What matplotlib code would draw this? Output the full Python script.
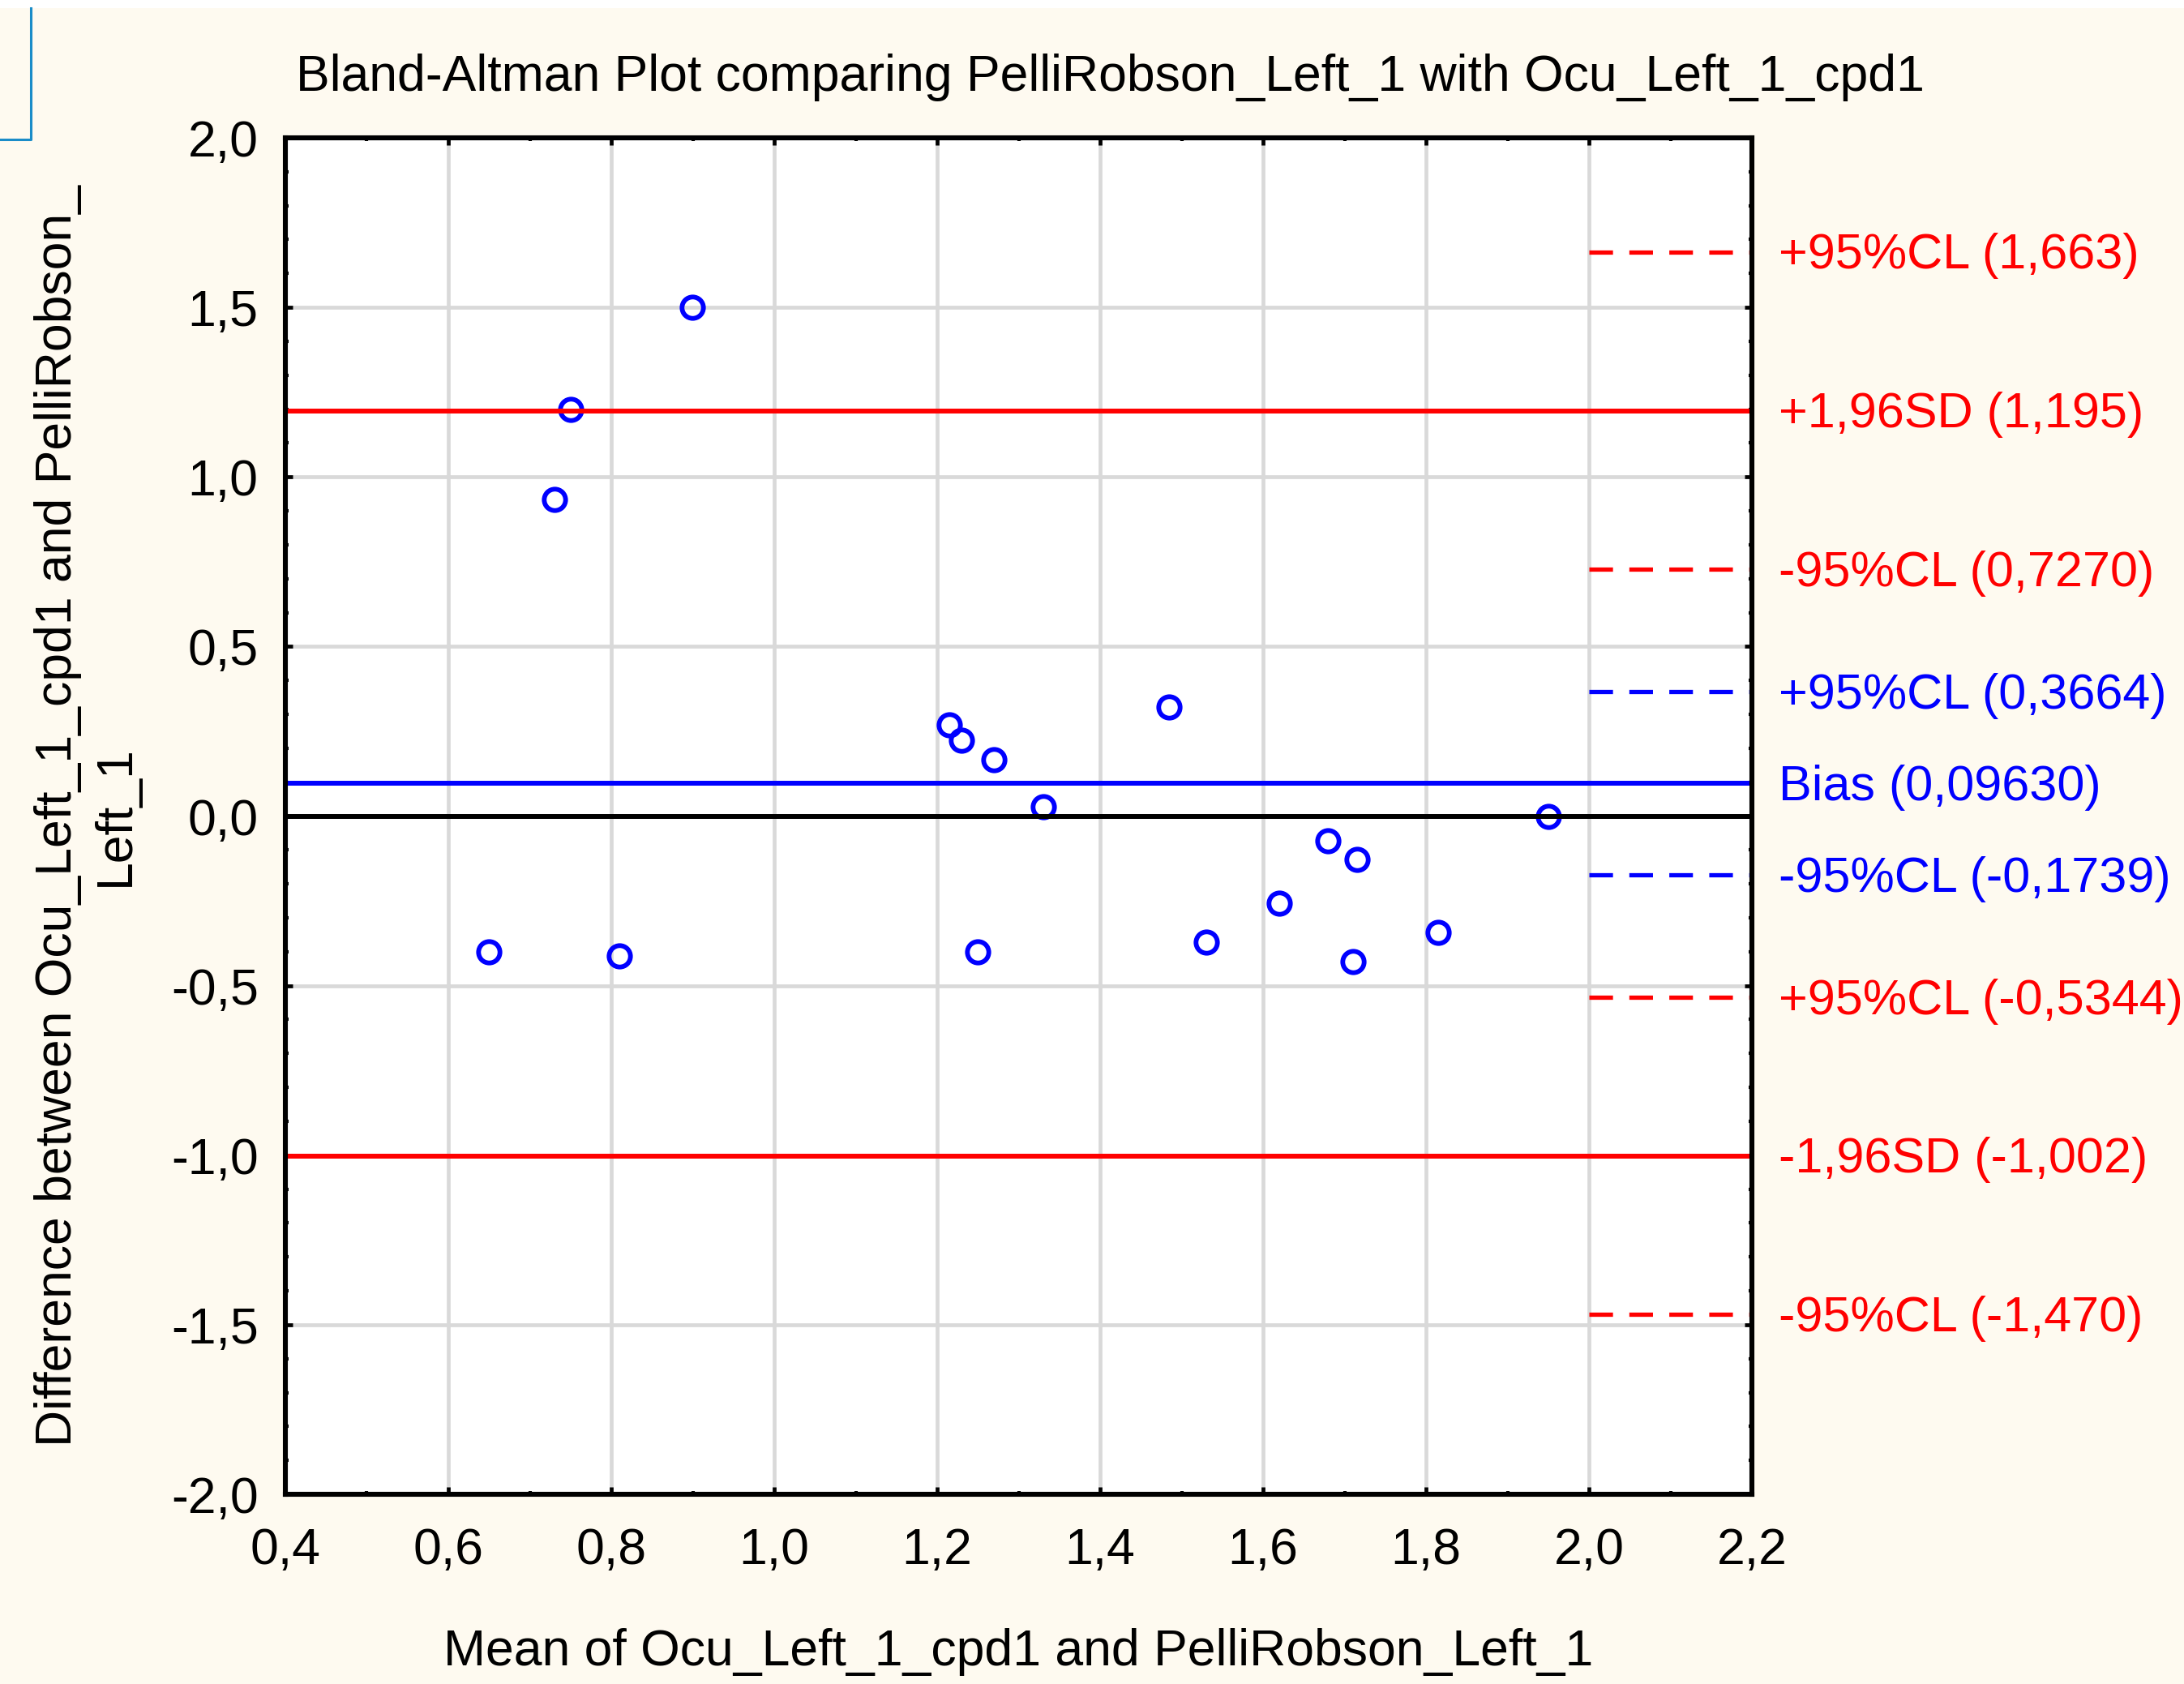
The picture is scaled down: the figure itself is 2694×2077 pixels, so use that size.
import matplotlib
matplotlib.use("Agg")
import matplotlib.pyplot as plt
from matplotlib.ticker import MultipleLocator, FuncFormatter
from matplotlib.patches import Rectangle
from matplotlib.lines import Line2D
import matplotlib.transforms as mtransforms

plt.rcParams['font.family'] = ['Liberation Sans', 'DejaVu Sans']
plt.rcParams['lines.scale_dashes'] = False

# data
mean_vals = [0.90, 0.75, 0.73, 0.65, 0.81, 1.215, 1.23, 1.27, 1.33, 1.25,
             1.485, 1.53, 1.62, 1.68, 1.715, 1.71, 1.815, 1.95]
diff_vals = [1.50, 1.20, 0.933, -0.40, -0.412, 0.268, 0.224, 0.166, 0.027, -0.40,
             0.322, -0.371, -0.256, -0.072, -0.129, -0.429, -0.343, -0.002]

bias = 0.09630
sd_upper = 1.195
sd_lower = -1.002
cl_values = [1.663, 0.7270, 0.3664, -0.1739, -0.5344, -1.470]
cl_colors = ['red', 'red', 'blue', 'blue', 'red', 'red']

right_labels = ["+95%CL (1,663)", "+1,96SD (1,195)", "-95%CL (0,7270)",
                "+95%CL (0,3664)", "Bias (0,09630)", "-95%CL (-0,1739)",
                "+95%CL (-0,5344)", "-1,96SD (-1,002)", "-95%CL (-1,470)"]
right_values = [1.663, 1.195, 0.7270, 0.3664, 0.09630, -0.1739, -0.5344, -1.002, -1.470]
right_colors = ['red', 'red', 'red', 'blue', 'blue', 'blue', 'red', 'red', 'red']

title = "Bland-Altman Plot comparing PelliRobson_Left_1 with Ocu_Left_1_cpd1"
xlabel = "Mean of Ocu_Left_1_cpd1 and PelliRobson_Left_1"
ylabel = "Difference between Ocu_Left_1_cpd1 and PelliRobson_\nLeft_1"

W, H = 2694, 2077
fs = 45
bg = '#FEFAF0'

fig = plt.figure(figsize=(W/100, H/100), dpi=100, facecolor=bg)
ax = fig.add_axes([352/W, 1-1843/H, (2161-352)/W, (1843-170)/H])
ax.set_facecolor('white')

# white strip at top and the blue box corner
fig.patches.append(Rectangle((0, 1-10/H), 1, 10/H, transform=fig.transFigure,
                             facecolor='white', edgecolor='none', zorder=0))
fig.lines.append(Line2D([38/W, 38/W, 0], [1-10/H, 1-172/H, 1-172/H],
                        transform=fig.transFigure, color='#1A8CC8', lw=2.2))

ax.set_xlim(0.4, 2.2)
ax.set_ylim(-2.0, 2.0)
ax.xaxis.set_major_locator(MultipleLocator(0.2))
ax.xaxis.set_minor_locator(MultipleLocator(0.1))
ax.yaxis.set_major_locator(MultipleLocator(0.5))
ax.yaxis.set_minor_locator(MultipleLocator(0.1))
fmt = FuncFormatter(lambda v, p: ("%.1f" % v).replace('.', ','))
ax.xaxis.set_major_formatter(fmt)
ax.yaxis.set_major_formatter(fmt)

ax.grid(True, which='major', color='#D9D9D9', lw=3.4, zorder=0)
ax.set_axisbelow(True)
ax.tick_params(which='both', direction='in', top=True, right=True,
               color='black', labelsize=fs)
ax.tick_params(which='major', length=6.5, width=3.4)
ax.tick_params(which='minor', length=3, width=3)
ax.tick_params(axis='x', which='major', pad=29)
ax.tick_params(axis='y', which='major', pad=24)
for s in ax.spines.values():
    s.set_linewidth(4.4)
    s.set_color('black')
    s.set_zorder(5)

ax.plot(mean_vals, diff_vals, 'o', ms=19, mfc='none', mec='blue', mew=4.2, zorder=2)

ax.axhline(0, color='black', lw=4.3, zorder=3)
ax.axhline(bias, color='blue', lw=4.3, zorder=3)
ax.axhline(sd_upper, color='red', lw=4.3, zorder=3)
ax.axhline(sd_lower, color='red', lw=4.3, zorder=3)
for v, c in zip(cl_values, cl_colors):
    ax.plot([2.0, 2.2], [v, v], color=c, lw=3.8, dashes=(21, 14.5), zorder=3)

trans = mtransforms.blended_transform_factory(ax.transAxes, ax.transData)
trans = trans + mtransforms.ScaledTranslation(0, -5/100, fig.dpi_scale_trans)
for lab, v, c in zip(right_labels, right_values, right_colors):
    ax.text(1.0182, v, lab, transform=trans, color=c, fontsize=44,
            ha='left', va='center', clip_on=False)

fig.text(1369/W, 1-112/H, title, fontsize=fs, ha='center', va='baseline')
fig.text(1256/W, 1-2054/H, xlabel, fontsize=fs, ha='center', va='baseline')
fig.text(107/W, 1-1006/H, ylabel, fontsize=fs, ha='center', va='center',
         rotation=90, multialignment='center', linespacing=1.26)

fig.savefig('out.png', dpi=100, facecolor=bg)
